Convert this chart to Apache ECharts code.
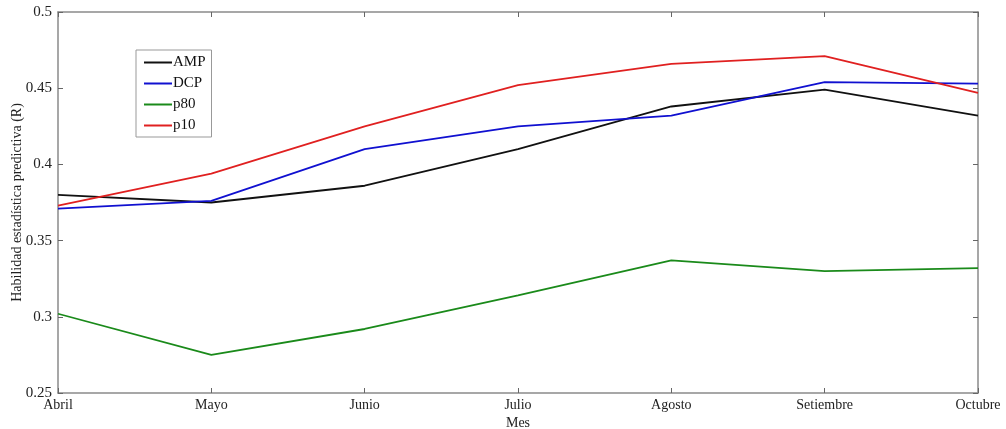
<!DOCTYPE html>
<html><head><meta charset="utf-8">
<script src="https://cdn.jsdelivr.net/npm/echarts@6/dist/echarts.min.js"></script>
<style>html,body{margin:0;padding:0;background:#fff}#c{width:1006px;height:429px}</style>
</head><body><div id="c"></div>
<script>
const categories = ['Abril','Mayo','Junio','Julio','Agosto','Setiembre','Octubre'];
const AMP = [0.380,0.375,0.386,0.410,0.438,0.449,0.432];
const DCP = [0.371,0.376,0.410,0.425,0.432,0.454,0.453];
const p80 = [0.302,0.275,0.292,0.314,0.337,0.330,0.332];
const p10 = [0.373,0.394,0.425,0.452,0.466,0.471,0.447];
const yTicks = [0.25,0.3,0.35,0.4,0.45,0.5];

const font = 'Liberation Serif';
const frame = '#8a8a8a';
const chart = echarts.init(document.getElementById('c'));
function mk(name, data, color){
  return {name, type:'line', data, symbol:'none', lineStyle:{color, width:1.8}, itemStyle:{color}, animation:false};
}
chart.setOption({
  animation:false,
  grid:{left:58, right:28, top:12, bottom:36, outerBoundsMode:'none', containLabel:false},
  legend:{
    orient:'vertical', left:136, top:50, itemWidth:28, itemHeight:2, itemGap:6,
    icon:'rect', borderColor:'#999', borderWidth:1, padding:[5,6,4,8],
    textStyle:{fontFamily:font, fontSize:15, color:'#111', padding:[0,0,0,-4]},
    data:['AMP','DCP','p80','p10']
  },
  xAxis:[{
    type:'category', data:categories, boundaryGap:false,
    name:'Mes', nameLocation:'middle', nameGap:23, nameMoveOverlap:false,
    nameTextStyle:{fontFamily:font, fontSize:14, color:'#222'},
    axisLine:{lineStyle:{color:frame, width:1.5}},
    axisTick:{inside:true, length:5, lineStyle:{color:'#666'}},
    axisLabel:{fontFamily:font, fontSize:14, color:'#222', margin:5},
    splitLine:{show:false}
  },{
    type:'category', data:categories, boundaryGap:false, position:'top',
    axisLine:{lineStyle:{color:frame, width:1.5}},
    axisTick:{inside:true, length:5, lineStyle:{color:'#666'}},
    axisLabel:{show:false}, splitLine:{show:false}
  }],
  yAxis:[{
    type:'value', min:0.25, max:0.5, interval:0.05,
    name:'Habilidad estadística predictiva (R)', nameLocation:'middle', nameGap:34, nameMoveOverlap:false,
    nameTextStyle:{fontFamily:font, fontSize:14, color:'#222'},
    axisLine:{show:true, lineStyle:{color:frame, width:1.5}},
    axisTick:{show:true, inside:true, length:5, lineStyle:{color:'#666'}},
    axisLabel:{fontFamily:font, fontSize:15, color:'#222', margin:6,
      formatter:v=>String(+v.toFixed(2))},
    splitLine:{show:false}
  },{
    type:'value', min:0.25, max:0.5, interval:0.05, position:'right',
    axisLine:{show:true, lineStyle:{color:frame, width:1.5}},
    axisTick:{show:true, inside:true, length:5, lineStyle:{color:'#666'}},
    axisLabel:{show:false}, splitLine:{show:false}
  }],
  series:[mk('AMP',AMP,'#111111'), mk('DCP',DCP,'#1010d0'), mk('p80',p80,'#1a8a1a'), mk('p10',p10,'#e02020')]
});
</script></body></html>
